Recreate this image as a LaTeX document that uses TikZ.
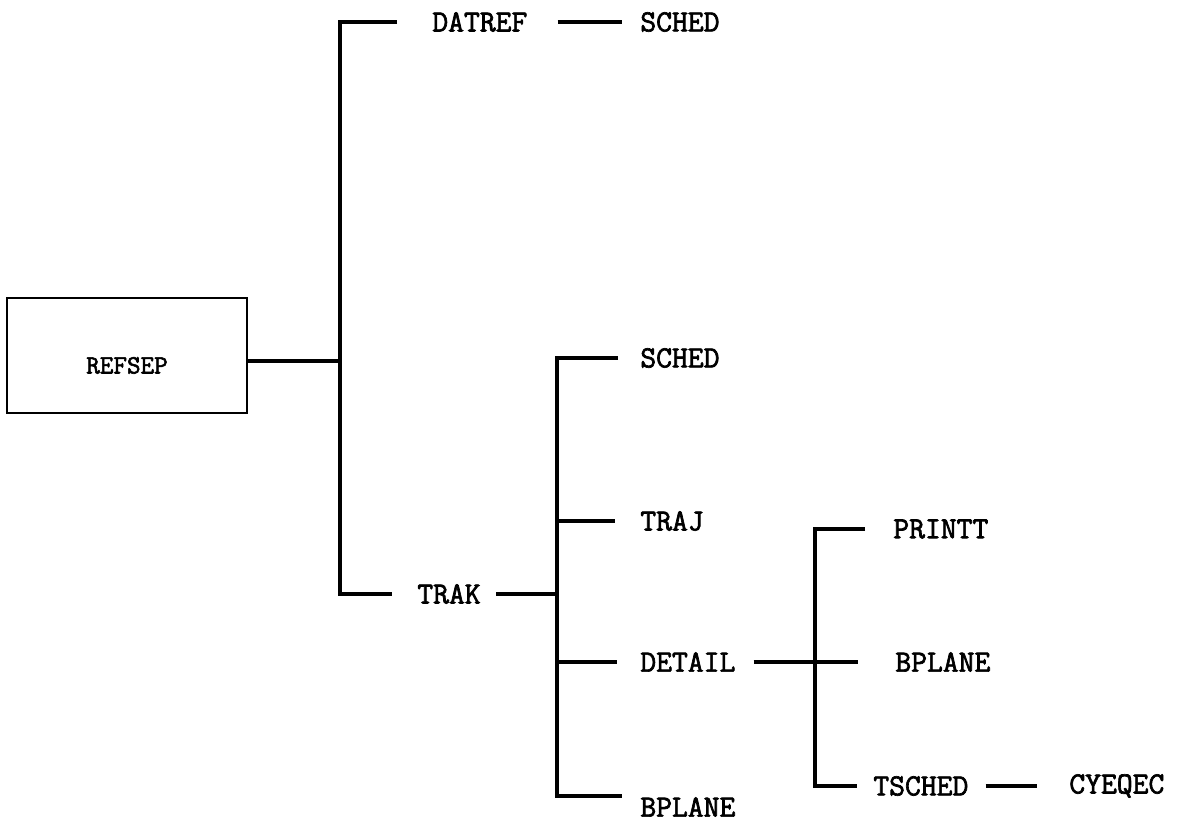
\documentclass[tikz,border=0pt]{standalone}
\usepackage{fontspec}
\setmonofont{Latin Modern Mono}[AutoFakeBold=2.2]
\usetikzlibrary{positioning}

\begin{document}
\begin{tikzpicture}[
    x=0.02cm, y=-0.02cm,
    font=\ttfamily\bfseries\fontsize{17.5}{20}\selectfont,
    modbox/.style={
        draw, line width=1.6pt,
        minimum width=4.8cm, minimum height=2.3cm,
        text height=0.72cm, text depth=0pt,
        inner sep=0pt, font=\ttfamily\bfseries\fontsize{15}{18}\selectfont
    },
    callee/.style={anchor=west, inner sep=0pt},
    wire/.style={line width=1.8pt},
]
\useasboundingbox (0,0) rectangle (1177,827);

% ------------------------------------------------------------
%  level 0 / 1
% ------------------------------------------------------------
\node[modbox] (refsep) at (127,355.5) {REFSEP};
\coordinate (j0) at (340,361);

\node[callee] (datref) at (432,22) {DATREF};
\node[callee] (sched1) at (640,22) {SCHED};
\node[callee] (trak)   at (417,594) {TRAK};

\draw[wire] (refsep.east |- j0) -- (j0);
\draw[wire, shorten <=0.7cm, shorten >=0.5cm]
    (datref.west) -| (j0) |- (trak.west);
\draw[wire, shorten <=0.6cm, shorten >=0.36cm] (datref.east) -- (sched1.west);

% ------------------------------------------------------------
%  under TRAK
% ------------------------------------------------------------
\coordinate (b2b) at (557,796);

\node[callee] (sched2)  at (640,358) {SCHED};
\node[callee] (traj)    at (640,521) {TRAJ};
\node[callee] (detail)  at (640,662) {DETAIL};
\node[callee] (bplane1) at (640,807) {BPLANE};

\draw[wire, shorten <=0.44cm, shorten >=0.36cm]
    (sched2.west) -| (b2b) -- (b2b -| bplane1.west);
\draw[wire, shorten <=0.3cm] (trak.east) -- (trak.east -| b2b);
\draw[wire, shorten >=0.5cm] (traj.west -| b2b) -- (traj.west);
\draw[wire, shorten >=0.46cm] (detail.west -| b2b) -- (detail.west);

% ------------------------------------------------------------
%  under DETAIL
% ------------------------------------------------------------
\coordinate (b3b) at (815,786);

\node[callee] (printt)  at (893,529) {PRINTT};
\node[callee] (bplane2) at (895,662) {BPLANE};
\node[callee] (tsched)  at (873,786) {TSCHED};
\node[callee] (cyeqec)  at (1069,786) {CYEQEC};

\draw[wire, shorten <=0.56cm, shorten >=0.32cm]
    (printt.west) -| (b3b) -- (tsched.west);
\draw[wire, shorten <=0.36cm, shorten >=0.74cm] (detail.east) -- (bplane2.west);
\draw[wire, shorten <=0.34cm, shorten >=0.64cm] (tsched.east) -- (cyeqec.west);

\end{tikzpicture}
\end{document}
